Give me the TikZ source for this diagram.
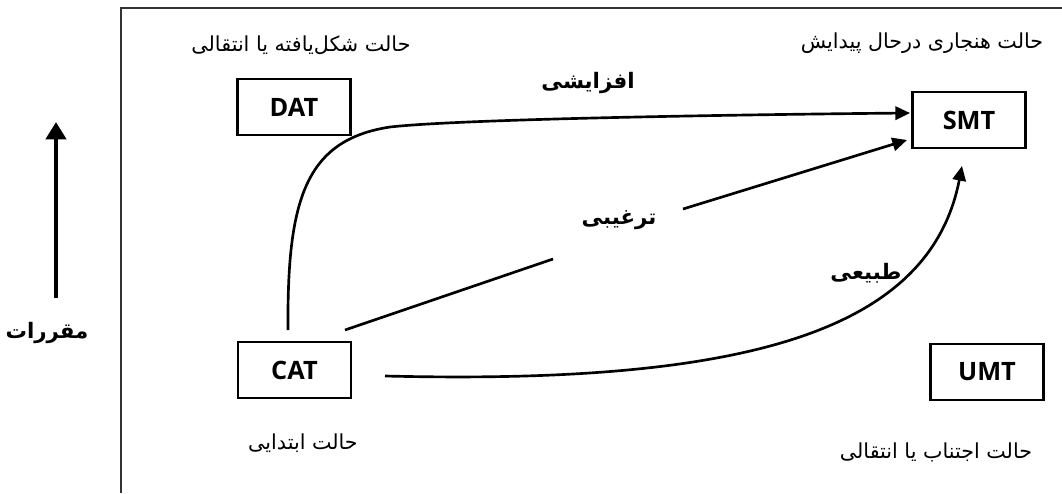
\documentclass[tikz,border=0pt]{standalone}
\usepackage{fontspec}
\setmainfont{Open Sans}
\TeXXeTstate=1
\newfontfamily\arabicfont[Script=Arabic]{DejaVu Sans}
\usetikzlibrary{arrows.meta}
\begin{document}
\begin{tikzpicture}[x=0.75pt,y=-0.75pt,
  box/.style={draw, line width=1.9pt, minimum width=84.75pt, minimum height=42pt, inner sep=0pt,
    font=\fontsize{19}{22}\selectfont\bfseries},
  plain/.style={inner sep=0pt, font=\arabicfont\fontsize{15.5}{18}\selectfont},
  bold/.style={inner sep=0pt, font=\arabicfont\bfseries\fontsize{16}{18}\selectfont},
  conn/.style={line width=2pt, -{Triangle[length=11pt,width=10pt]}},
  link/.style={line width=2pt},
  frame/.style={line width=1.5pt, draw=black!80}]
\useasboundingbox (0,0) rectangle (1062,493);
% frame
\coordinate (fr) at (1062,8);
\coordinate (fc) at (121,8);
\coordinate (fb) at (121,493);
\draw[frame] (fr) -- (fc) -- (fb);
% boxes
\node[box] (DAT) at (294,107) {DAT};
\node[box] (SMT) at (969,120) {SMT};
\node[box] (CAT) at (294.5,370) {CAT};
\node[box] (UMT) at (987,372) {UMT};
% labels
\node[plain] (tl) at (301,45) {\beginR حالت شکل‌یافته یا انتقالی\endR};
\node[plain] (tr) at (922,43) {\beginR حالت هنجاری درحال پیدایش\endR};
\node[plain] (bl) at (303,443) {\beginR حالت ابتدایی\endR};
\node[plain] (br) at (936,452) {\beginR حالت اجتناب یا انتقالی\endR};
\node[bold] (l1) at (588,83) {\beginR افزایشی\endR};
\node[bold] (l2) at (619,220) {\beginR ترغیبی\endR};
\node[bold] (l3) at (866,273) {\beginR طبیعی\endR};
\node[bold] (l4) at (47,333) {\beginR مقررات\endR};
% left arrow
\coordinate (a0) at (56,298);
\coordinate (a1) at (56,122);
\draw[line width=3.2pt, -{Triangle[length=13pt,width=15pt]}] (a0) -- (a1);
% connectors
\coordinate (c1) at (288,330);
\coordinate (c1m) at (390,127);
\coordinate (s1) at (910,113);
\draw[conn] (c1) .. controls (287,200) and (305,140) .. (c1m)
            .. controls (470,118) and (800,114) .. (s1);
\coordinate (c2) at (345,330);
\coordinate (g1) at (553,259);
\coordinate (g2) at (683,209);
\coordinate (s2) at (907,140);
\draw[link] (c2) -- (g1);
\draw[conn] (g2) -- (s2);
\coordinate (c3) at (385,376);
\coordinate (s3) at (962,166);
\draw[conn] (c3) .. controls (750,385) and (930,330) .. (s3);
\end{tikzpicture}
\end{document}
